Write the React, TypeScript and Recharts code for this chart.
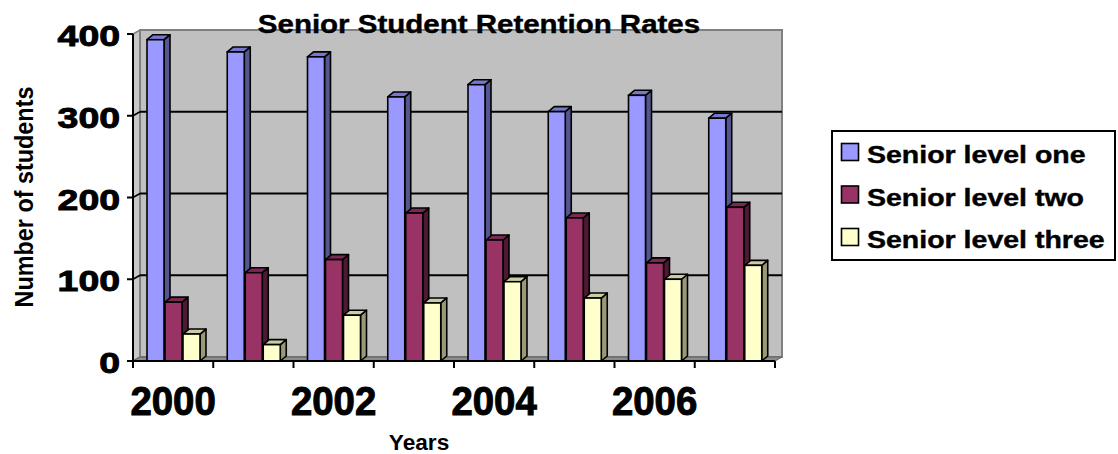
import React from 'react';
import { BarChart, Bar, XAxis, YAxis, CartesianGrid, Legend } from 'recharts';

const years = ['2000', '2001', '2002', '2003', '2004', '2005', '2006', '2007'];
const seniorLevelOne = [393, 378, 372, 323, 338, 305, 325, 297];
const seniorLevelTwo = [72, 108, 124, 181, 148, 175, 120, 188];
const seniorLevelThree = [33, 20, 56, 71, 97, 77, 100, 117];
const yTicks = [0, 100, 200, 300, 400];
const seriesNames = ['Senior level one', 'Senior level two', 'Senior level three'];
const chartTitle = 'Senior Student Retention Rates';
const xAxisTitle = 'Years';
const yAxisTitle = 'Number of students';

const data = years.map((year, i) => ({
  year,
  one: seniorLevelOne[i],
  two: seniorLevelTwo[i],
  three: seniorLevelThree[i],
}));

const FONT = '"Liberation Sans", Arial, Helvetica, sans-serif';
const DX = 6; // bar depth x
const DY = 5; // bar depth y
const WX = 7; // wall depth x
const WY = 4; // wall depth y

const make3DBar = (front: string, side: string, top: string) => (p: any) => {
  const { x, y, width, height } = p;
  if (x == null || y == null || !width || !height || height <= 0) return <g />;
  const r = x + width;
  const b = y + height;
  return (
    <g>
      <polygon
        points={`${r},${y} ${r + DX},${y - DY} ${r + DX},${b - DY} ${r},${b}`}
        fill={side}
        stroke="#000"
        strokeWidth={1.6}
        strokeLinejoin="round"
      />
      <polygon
        points={`${x},${y} ${x + DX},${y - DY} ${r + DX},${y - DY} ${r},${y}`}
        fill={top}
        stroke="#000"
        strokeWidth={1.6}
        strokeLinejoin="round"
      />
      <rect x={x} y={y} width={width} height={height} fill={front} stroke="#000" strokeWidth={1.6} />
    </g>
  );
};

const gridLine = (p: any) => {
  const { x1, x2, y1, index } = p;
  const px = p.x;
  const py = p.y;
  const pw = p.width;
  const ph = p.height;
  const isBottom = Math.abs(y1 - (py + ph)) < 0.5;
  const isTop = Math.abs(y1 - py) < 0.5;
  return (
    <g key={`gl-${index}`}>
      {index === 0 && px != null && ph != null ? (
        <g>
          <polygon
            points={`${px},${py} ${px + WX},${py - WY} ${px + WX},${py + ph - WY} ${px},${py + ph}`}
            fill="#C8C8C8"
            stroke="#808080"
            strokeWidth={1.5}
          />
          <rect x={px + WX} y={py - WY} width={pw} height={ph} fill="#C0C0C0" stroke="#808080" strokeWidth={2} />
          <polygon
            points={`${px},${py + ph} ${px + WX},${py + ph - WY} ${px + pw + WX},${py + ph - WY} ${px + pw},${py + ph}`}
            fill="#8C8C8C"
            stroke="#606060"
            strokeWidth={1}
          />
        </g>
      ) : null}
      {!isBottom && !isTop ? (
        <g>
          <line x1={x1 + WX} y1={y1 - WY} x2={x2 + WX} y2={y1 - WY} stroke="#000" strokeWidth={2} />
          <line x1={x1} y1={y1} x2={x1 + WX} y2={y1 - WY} stroke="#000" strokeWidth={1.5} />
        </g>
      ) : null}
    </g>
  );
};

const YTick = (p: any) => {
  const { x, y, payload } = p;
  return (
    <text
      transform={`translate(${x},${y + 12}) scale(1.29,1)`}
      textAnchor="end"
      fontFamily={FONT}
      fontWeight="bold"
      fontSize={29}
      fill="#000"
      stroke="#000"
      strokeWidth={0.9}
    >
      {payload.value}
    </text>
  );
};

const XTick = (p: any) => {
  const { x, y, payload, index } = p;
  const half = payload && payload.offset ? payload.offset : 40.1;
  const last = index === years.length - 1;
  return (
    <g>
      <line x1={x - half} y1={y} x2={x - half} y2={y + 7} stroke="#000" strokeWidth={2} />
      {last ? <line x1={x + half} y1={y} x2={x + half} y2={y + 7} stroke="#000" strokeWidth={2} /> : null}
      {index % 2 === 0 ? (
        <text
          transform={`translate(${x},${y + 54}) scale(0.96,1)`}
          textAnchor="middle"
          fontFamily={FONT}
          fontWeight="bold"
          fontSize={40}
          fill="#000"
          stroke="#000"
          strokeWidth={1}
        >
          {payload.value}
        </text>
      ) : null}
    </g>
  );
};

const LegendBox = (props: any) => {
  const raw = props.payload || [];
  const payload = [...raw].sort(
    (a: any, b: any) => seriesNames.indexOf(a.value) - seriesNames.indexOf(b.value)
  );
  return (
    <svg width={285} height={131} style={{ display: 'block' }}>
      <rect x={1} y={1} width={283} height={129} fill="#fff" stroke="#000" strokeWidth={2} />
      {payload.map((item: any, i: number) => (
        <g key={`lg-${i}`}>
          <rect x={10.5} y={13.5 + i * 42.5} width={17} height={17} fill={item.color} stroke="#000" strokeWidth={1.6} />
          <text
            transform={`translate(36,${33 + i * 42.5}) scale(1.24,1)`}
            fontFamily={FONT}
            fontWeight="bold"
            fontSize={23}
            fill="#000"
            stroke="#000"
            strokeWidth={0.4}
          >
            {item.value}
          </text>
        </g>
      ))}
    </svg>
  );
};

export default function App() {
  return (
    <div style={{ position: 'absolute', left: 0, top: 0, width: 1118, height: 454, background: '#fff' }}>
      <BarChart
        width={1118}
        height={454}
        data={data}
        margin={{ top: 34, right: 343, left: 0, bottom: 0 }}
        barSize={17}
        barGap={1}
      >
        <CartesianGrid horizontal={gridLine} vertical={false} fill="none" stroke="#000" />
        <XAxis
          dataKey="year"
          height={93}
          interval={0}
          tickLine={false}
          tickSize={0}
          tickMargin={0}
          tick={<XTick />}
          axisLine={{ stroke: '#000', strokeWidth: 2 }}
        />
        <YAxis
          width={133}
          domain={[0, 400]}
          ticks={yTicks}
          interval={0}
          tickSize={6}
          tickMargin={7}
          tickLine={{ stroke: '#000', strokeWidth: 2 }}
          axisLine={{ stroke: '#000', strokeWidth: 2 }}
          tick={<YTick />}
        />
        <Legend
          verticalAlign="middle"
          align="center"
          layout="vertical"
          itemSorter={null as any}
          content={<LegendBox />}
          wrapperStyle={{ left: 831, top: 130, width: 285, height: 131, right: 'auto', bottom: 'auto' }}
        />
        <Bar
          dataKey="one"
          name={seriesNames[0]}
          fill="#9999FF"
          isAnimationActive={false}
          shape={make3DBar('#9999FF', '#55558F', '#7777CC')}
        />
        <Bar
          dataKey="two"
          name={seriesNames[1]}
          fill="#993366"
          isAnimationActive={false}
          shape={make3DBar('#993366', '#4D1A33', '#7A2952')}
        />
        <Bar
          dataKey="three"
          name={seriesNames[2]}
          fill="#FFFFCC"
          isAnimationActive={false}
          shape={make3DBar('#FFFFCC', '#999977', '#CCCCA3')}
        />
      </BarChart>
      <svg
        width={1118}
        height={454}
        style={{ position: 'absolute', left: 0, top: 0, pointerEvents: 'none' }}
      >
        <text
          transform="translate(479,33) scale(1.18,1)"
          textAnchor="middle"
          fontFamily={FONT}
          fontWeight="bold"
          fontSize={25}
          fill="#000"
          stroke="#000"
          strokeWidth={0.4}
        >
          {chartTitle}
        </text>
        <text
          transform="translate(33,197) rotate(-90) scale(0.9,1)"
          textAnchor="middle"
          fontFamily={FONT}
          fontWeight="bold"
          fontSize={26}
          fill="#000"
        >
          {yAxisTitle}
        </text>
        <text
          transform="translate(419,450) scale(1.03,1)"
          textAnchor="middle"
          fontFamily={FONT}
          fontWeight="bold"
          fontSize={22}
          fill="#000"
        >
          {xAxisTitle}
        </text>
      </svg>
    </div>
  );
}
